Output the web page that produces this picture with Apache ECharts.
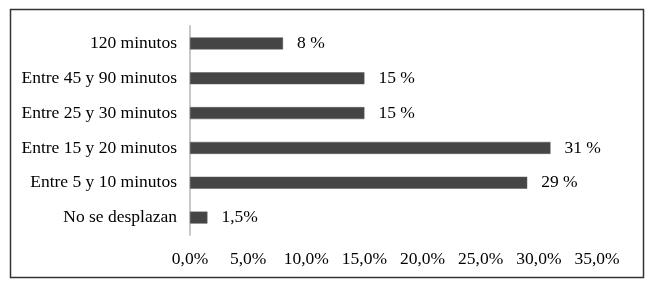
<!DOCTYPE html>
<html>
<head>
<meta charset="utf-8">
<script src="https://cdn.jsdelivr.net/npm/echarts@6/dist/echarts.min.js"></script>
<style>html,body{margin:0;padding:0;background:#fff;}#c{width:650px;height:287px;}</style>
</head>
<body>
<div id="c"></div>
<script>
const categories = ['No se desplazan','Entre 5 y 10 minutos','Entre 15 y 20 minutos','Entre 25 y 30 minutos','Entre 45 y 90 minutos','120 minutos'];
const values = [1.5, 29, 31, 15, 15, 8];
const valueLabels = ['1,5%','29 %','31 %','15 %','15 %','8 %'];
const xTicks = [0, 5, 10, 15, 20, 25, 30, 35];

const chart = echarts.init(document.getElementById('c'), null, {renderer:'canvas'});
const font = 'Liberation Serif, Times New Roman, serif';
chart.setOption({
  animation: false,
  backgroundColor: '#fff',
  graphic: [{
    type: 'rect', left: 8, top: 7,
    shape: {width: 633, height: 268},
    style: {fill: 'none', stroke: '#333', lineWidth: 1.5}
  }],
  grid: {left: 190, right: 53, top: 26, bottom: 52},
  xAxis: {
    type: 'value', min: xTicks[0], max: xTicks[xTicks.length-1], interval: 5,
    axisLine: {show: false}, axisTick: {show: false}, splitLine: {show: false},
    axisLabel: {
      margin: 15, color: '#000', fontFamily: font, fontSize: 17.5,
      formatter: v => v.toFixed(1).replace('.', ',') + '%'
    }
  },
  yAxis: {
    type: 'category', data: categories,
    axisLine: {show: true, lineStyle: {color: '#c8c8c8', width: 2}},
    axisTick: {show: false},
    axisLabel: {margin: 13, color: '#000', fontFamily: font, fontSize: 17.5}
  },
  series: [{
    type: 'bar', data: values, barWidth: 12,
    itemStyle: {color: '#454545', borderColor: '#5a5a5a', borderWidth: 0.5},
    label: {
      show: true, position: 'right', distance: 14, color: '#000',
      fontFamily: font, fontSize: 17.5,
      formatter: p => valueLabels[p.dataIndex]
    }
  }]
});
</script>
</body>
</html>
